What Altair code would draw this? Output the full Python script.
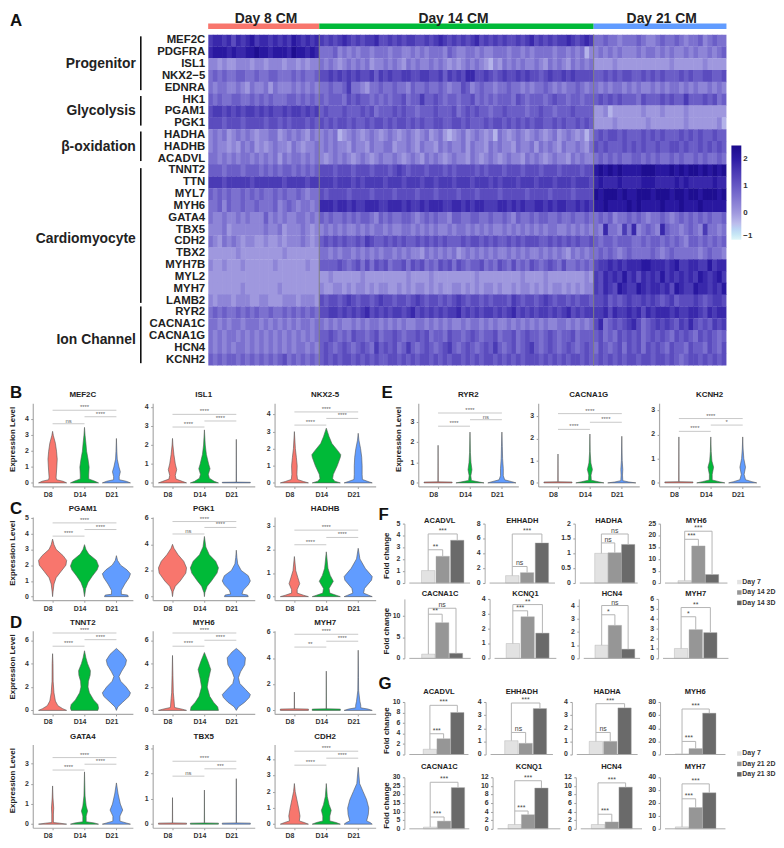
import altair as alt
import pandas as pd

FONT = "Liberation Sans"
DAYS = ["D8", "D14", "D21"]
DAY_COLORS = ["#F8766D", "#00BA38", "#619CFF"]

# ------------------------------------------------ panel A values
genes = ["MEF2C","PDGFRA","ISL1","NKX2\u22125","EDNRA","HK1","PGAM1","PGK1","HADHA","HADHB","ACADVL",
         "TNNT2","TTN","MYL7","MYH6","GATA4","TBX5","CDH2","TBX2","MYH7B","MYL2","MYH7","LAMB2",
         "RYR2","CACNA1C","CACNA1G","HCN4","KCNH2"]
# estimated intensity per cell, digit 0 (light) .. 9 (dark)
heat_d8 = [
 "677675767867767676876767","788878778898878887988787","221211222122122212212122","343433443343344333434334",
 "323322321322313222323232","434334433434343334434343","566565656656565565665656","555455545555455454555454",
 "232312323212233123232132","232212132312123221321223","332323233232323132332323","444344434443434344343434",
 "666566666566666656666566","434343343434334343343233","334243343343334234323323","322322323222423232233232",
 "222312222222322312223212","321323212211211212223212","111111211111111121111111","211211121111112111111211",
 "111111111111111111111111","111111121111111211111111","212221222112211122212221","343433434343343343434343",
 "332323323332323232323323","323233232323232323232323","323232332323232323233232","434344343434343453434343"]
heat_d14 = [
 "656567656566755656566556567656565675656565565675656566765676","333423232332333233223232333243223323223332332323333233232302",
 "323212323231223232132322323212123232102132323223213232132323","556565656556465655665566556465657755654565565655456556565555",
 "334334633213343343324334334323354234332334332323343232334323","434443545443434344534464454344344534343444354344434544344344",
 "454445444545344454544344454445345454434454444344544344454444","545455454454554545545454455445545444545545454545544545445454",
 "232301232123212321232123123101231232120321232123212312321202","232322132213223312232132213232231322132322132231323213223213",
 "212323212321232232123213232123221321232123221323212322132322","555455545554555456545554555454555545455545554555455545555455",
 "666566656566665666566656656665666566656566656665666566656665","545555455554555545555455545555455545555455555455554555545555",
 "777677676677766777676676777667767677666776767667767677667676","434334343443243433443234343324433443343343243343443343343343",
 "232323223232332322332323232232332323232232323232323322323232","454545445465445454544545454544454554545445454555445454545445",
 "332323323232323323232213232323123232323223232322323232132323","444454345353545344535453435453543445343543534354345435334343",
 "112111111211111111121111211111111121111111112111121111111121","211221212212122112121221212112212121221211212212121221212122",
 "545545654554565545545654554545654554545554654554565455454554","556656565675656566567565656566756565665656756565665656756566",
 "323232232323323232322332323232232332323223232323232233232323","445434354434534454344545344354434543445344534544345434453444",
 "454345434543645453464345434564345434546434534564345434543454","454545545454544554545455454545545454554545454555454545455454"]
heat_d21 = [
 "3343323334322343343233423433","2323232223233232322323223234","1111211111111111211111121111","4454545544545454445454455445",
 "3232332323223232332323223232","4545454443544454544644454534","1120111111211121111211111111","1111211111121111111211111120",
 "4545545444545454445454544544","5454445454544544554544545454","3434343344343433434334343343","8989898888999888989899898989",
 "7877787777888777787877777877","9899989889998999899899899989","8898888989888898889888988888","3434233434323343234343434334",
 "3273326372343274332343263323","4344344433434434343244343434","3434323433334323433333234332","5667676777887776786677668677",
 "6576768675767686767676876786","6576587668767767587668776768","5564545655656545645556545665","6675766767576777676677657677",
 "5734545675345656546575454656","4534354545345454354543545434","3543453545354543544354435435","4545454554554554543455454545"]

groups = ["Progenitor", "Glycolysis", "\u03b2-oxidation", "Cardiomyocyte", "Ion Channel"]
group_start = [0.15, 5.2, 8.2, 11.3, 23.0]
group_end = [4.7, 7.7, 10.7, 22.7, 27.8]
group_mid = [2.5, 6.5, 9.5, 17.3, 25.8]
stages = ["Day 8 CM", "Day 14 CM", "Day 21 CM"]
stage_width = [24.0, 59.3, 28.7]
stage_label_x = [12.5, 53.0, 98.0]

HEAT_COLORS = ["#dff6f8", "#bcbcec", "#9f98de", "#6558c4", "#2c1ba5", "#1a0a8c"]
HEAT_STOPS = [-1, -0.4, 0, 1, 2, 2.5]

# ------------------------------------------------ violin values: (level, relative density)
violins = {
 "MEF2C": [[(0,1),(.1,.75),(.2,.28),(.35,.25),(1,.3),(1.5,.33),(2,.28),(2.5,.2),(3,.05),(3.25,0)],
           [(0,1),(.1,.75),(.25,.3),(.5,.3),(1,.33),(1.5,.25),(2,.15),(2.5,.1),(3,.04),(3.5,0)],
           [(0,1),(.1,.7),(.2,.2),(.4,.2),(.7,.28),(1,.18),(1.5,.06),(2,.03),(2.8,0)]],
 "ISL1": [[(0,1),(.08,.7),(.2,.25),(.4,.2),(.7,.3),(1,.2),(1.5,.1),(2,.03),(2.35,0)],
          [(0,1),(.08,.7),(.25,.35),(.45,.28),(.75,.4),(1,.3),(1.5,.14),(2,.06),(2.8,0)],
          [(0,1),(.03,1),(.04,.012),(2.3,0)]],
 "NKX2-5": [[(0,1),(.08,.65),(.2,.22),(.5,.18),(1,.2),(1.5,.14),(2,.07),(3,0)],
            [(0,1),(.1,.6),(.25,.45),(.5,.5),(1,.78),(1.5,1),(1.65,1.03),(1.9,.8),(2.3,.4),(2.7,.2),(3.2,0)],
            [(0,1),(.08,.7),(.2,.3),(.5,.28),(1,.28),(1.5,.25),(2,.17),(2.5,.05),(2.9,0)]],
 "PGAM1": [[(0,0),(.3,.03),(.8,.1),(1.2,.25),(1.6,.6),(2,.95),(2.3,1),(2.6,.75),(3,.25),(3.3,.1),(3.65,0)],
           [(0,0),(.5,.08),(.9,.25),(1.3,.55),(1.7,.9),(1.95,1),(2.3,.85),(2.7,.3),(3,.1),(3.3,0)],
           [(0,.85),(.1,.8),(.15,.35),(.4,.35),(.8,.6),(1.2,.9),(1.45,1),(1.7,.75),(2,.3),(2.3,.08),(2.6,0)]],
 "PGK1": [[(0,0),(.4,.05),(.8,.2),(1.2,.55),(1.8,.95),(2.2,1),(2.7,.8),(3.2,.4),(3.7,.1),(4,0)],
          [(0,0),(.3,.03),(.8,.2),(1.2,.5),(1.8,.9),(2.2,1),(2.7,.8),(3.2,.35),(3.8,.1),(4.6,0)],
          [(0,.85),(.12,.8),(.2,.4),(.5,.5),(.9,.85),(1.2,1),(1.6,.85),(2,.35),(2.5,.1),(3,.04),(3.55,0)]],
 "HADHB": [[(0,1),(.06,.65),(.15,.2),(.3,.2),(.55,.38),(.8,.25),(1.1,.1),(1.7,0)],
           [(0,1),(.06,.7),(.15,.25),(.35,.2),(.65,.5),(.9,.28),(1.2,.12),(1.9,0)],
           [(0,1),(.06,.75),(.15,.38),(.35,.45),(.7,.95),(.85,1),(1.2,.5),(1.6,.12),(2.05,0)]],
 "TNNT2": [[(0,1),(.15,.72),(.4,.38),(.8,.2),(1.5,.1),(2.5,.04),(4,.03),(4.85,0)],
           [(0,.95),(.2,1),(.5,.95),(.9,.65),(1.5,.35),(2,.25),(2.5,.28),(3,.4),(3.4,.42),(4,.22),(4.5,.1),(5.1,0)],
           [(0,0),(.3,.1),(.7,.45),(1.2,.9),(1.5,1),(2,.7),(2.5,.3),(2.9,.18),(3.3,.35),(3.9,.65),(4.3,.72),(4.8,.45),(5.3,0)]],
 "MYH6": [[(0,1),(.1,.7),(.25,.15),(1,.1),(1.5,.06),(3,.03),(4.7,0)],
          [(0,1),(.3,.95),(.7,.65),(1.2,.38),(2,.2),(2.7,.3),(3.5,.45),(4.2,.25),(4.95,0)],
          [(0,0),(.3,.15),(.7,.6),(1.1,.92),(1.35,1),(1.8,.65),(2.3,.25),(2.8,.15),(3.3,.3),(3.9,.6),(4.5,.65),(5,.3),(5.3,0)]],
 "MYH7": [[(0,1),(.1,1),(.12,.012),(1.4,0)],
          [(0,1),(.1,1),(.12,.012),(3,0)],
          [(0,1),(.1,.7),(.2,.18),(.4,.18),(.7,.12),(1.5,.03),(2.5,.02),(4.6,0)]],
 "GATA4": [[(0,1),(.05,.5),(.08,.06),(.5,.06),(.8,.08),(1.3,.03),(1.9,0)],
           [(0,1),(.06,.7),(.12,.12),(.4,.12),(.65,.22),(.9,.12),(1.4,.04),(2.6,0)],
           [(0,1),(.06,.7),(.15,.25),(.4,.25),(.7,.45),(1,.28),(1.5,.12),(2.05,0)]],
 "TBX5": [[(0,1),(.04,1),(.05,.012),(1.05,0)],
          [(0,1),(.04,1),(.05,.012),(1.35,0)],
          [(0,1),(.04,1),(.05,.012),(1.8,0)]],
 "CDH2": [[(0,1),(.1,.7),(.2,.35),(.5,.4),(1,.3),(1.5,.18),(2,.06),(2.5,0)],
          [(0,1),(.1,.7),(.2,.25),(.5,.25),(.85,.35),(1.2,.2),(1.7,.07),(2.5,0)],
          [(0,1),(.1,.85),(.2,.6),(.6,.72),(1,.75),(1.5,.6),(2,.35),(2.5,.1),(3.5,0)]],
 "RYR2": [[(0,1),(.04,1),(.05,.012),(1.85,0)],
          [(0,1),(.05,.6),(.12,.1),(.35,.06),(.65,.14),(1,.07),(1.5,.03),(2.5,0)],
          [(0,1),(.06,.7),(.15,.2),(.35,.1),(.7,.1),(1.2,.05),(1.8,.03),(2.5,0)]],
 "CACNA1G": [[(0,1),(.04,1),(.05,.012),(1.3,0)],
             [(0,1),(.05,.6),(.12,.1),(.35,.08),(.6,.18),(.9,.07),(1.4,.02),(2.2,0)],
             [(0,1),(.04,.5),(.1,.07),(.35,.05),(.6,.07),(1,.03),(2.1,0)]],
 "KCNH2": [[(0,1),(.04,1),(.05,.012),(1.9,0)],
           [(0,1),(.05,.6),(.12,.1),(.35,.1),(.65,.2),(.9,.08),(1.3,.03),(1.9,0)],
           [(0,1),(.05,.65),(.13,.2),(.35,.1),(.65,.2),(1,.08),(1.4,.03),(1.9,0)]],
}
# px per unit on the y axis, tick values
violin_ppu = {"MEF2C":16,"ISL1":19.1,"NKX2-5":17.25,"PGAM1":15.9,"PGK1":13.2,"HADHB":23.8,"TNNT2":11.8,"MYH6":11.8,
              "MYH7":13.2,"GATA4":20.3,"TBX5":25.5,"CDH2":16.4,"RYR2":20.5,"CACNA1G":22.4,"KCNH2":24.4}
violin_ticks = {"MEF2C":[0,1,2,3,4],"ISL1":[0,1,2,3,4],"NKX2-5":[0,1,2,3,4],"PGAM1":[0,1,2,3,4,5],"PGK1":[0,2,4,6],
                "HADHB":[0,1,2,3],"TNNT2":[0,2,4,6],"MYH6":[0,2,4,6],"MYH7":[0,2,4,6],"GATA4":[0,1,2,3],
                "TBX5":[0,1,2,3],"CDH2":[0,1,2,3,4],"RYR2":[0,1,2,3],"CACNA1G":[0,1,2,3],"KCNH2":[0,1,2,3]}
# brackets: y of D8-D14, D14-D21, D8-D21 and their labels
violin_sig = {
 "MEF2C":([3.73,4.17,4.58],["ns","****","****"]),"ISL1":([2.95,3.27,3.62],["****","****","****"]),
 "NKX2-5":([3.38,3.77,4.15],["****","****","****"]),"PGAM1":([3.84,4.26,4.68],["****","****","****"]),
 "PGK1":([4.79,5.29,5.74],["ns","****","****"]),"HADHB":([2.2,2.51,2.82],["****","****","****"]),
 "TNNT2":([5.49,6.05,6.62],["****","****","****"]),"MYH6":([5.49,6.0,6.62],["****","****","****"]),
 "MYH7":([4.84,5.29,5.82],["**","****","****"]),"GATA4":([2.69,2.98,3.31],["****","****","****"]),
 "TBX5":([1.9,2.19,2.49],["ns","***","****"]),"CDH2":([3.63,4.06,4.49],["****","****","****"]),
 "RYR2":([2.79,3.11,3.44],["****","ns","****"]),"CACNA1G":([2.41,2.73,3.12],["****","****","****"]),
 "KCNH2":([2.13,2.39,2.66],["****","*","****"]),
}

# ------------------------------------------------ bar values
bar_f1 = [("ACADVL",[1.05,2.25,3.6],[0,5],[0,1,2,3,4,5],2.8,4.13,"**","***"),
          ("EHHADH",[1,1.4,5.4],[0,8],[0,2,4,6,8],2.23,6.6,"ns","***"),
          ("HADHA",[1,1.02,1.3],[0,2],[0,.5,1,1.5,2],1.35,1.65,"ns","ns"),
          ("MYH6",[1,15.6,3.6],[0,25],[0,5,10,15,20,25],18.4,21.8,"***","***")]
bar_f2 = [("CACNA1C",[1,8.4,1.2],[0,14],[0,5,10],10.4,11.8,"**","ns"),
          ("KCNQ1",[1,2.8,1.7],[0,4],[0,1,2,3,4],3.2,3.62,"***","**"),
          ("HCN4",[1,2.5,.7],[0,4.5],[0,1,2,3,4],3.3,4.0,"*","ns"),
          ("MYH7",[1,2.9,2.6],[0,6],[0,1,2,3,4,5,6],4.2,5.13,"*","**")]
bar_g1 = [("ACADVL",[1,3,8],[0,10],[0,2,4,6,8,10],3.95,9.36,"***","***"),
          ("EHHADH",[1.05,.85,3.5],[0,4],[0,1,2,3,4],1.68,3.92,"ns","***"),
          ("HADHA",[1,1,3.55],[0,4],[0,1,2,3,4],1.68,3.87,"ns","***"),
          ("MYH6",[1,9,63],[0,80],[0,20,40,60,80],19.9,69.3,"***","***")]
bar_g2 = [("CACNA1C",[1,4.5,24],[0,30],[0,5,10,15,20,25,30],6.9,27.1,"***","***"),
          ("KCNQ1",[1,3.3,9.5],[0,12],[0,2,4,6,8,10,12],4.15,11.2,"***","***"),
          ("HCN4",[1,1.6,9.7],[0,12],[0,2,4,6,8,10,12],3.4,10.7,"***","***"),
          ("MYH7",[1.5,16.5,28],[0,40],[0,10,20,30,40],23.3,34.9,"***","***")]
legend_f = ["Day 7", "Day 14 2D", "Day 14 3D"]
legend_g = ["Day 7", "Day 21 2D", "Day 21 3D"]
BAR_COLORS = ["#e2e2e2", "#969696", "#6a6a6a"]

# ------------------------------------------------ layout constants (px)
VIO_H = 84
VIO_STEP = 32.2
VIO_OFF = 20
VIO_SP = 20
BAR_SP = 8
geo_f1 = dict(l=[406,487,578,664], r=[477,562,645,737], c=[(428,445,462),(513,530,547),(603,618,634),(687,703,719)], h=60, tdy=-3)
geo_f2 = dict(l=[406,492,582,662], r=[477,563,648,738], c=[(428,444,460),(513,530,547),(603,618,634),(683,700,717)], h=60, tdy=-5)
geo_g1 = dict(l=[406,488,575,664], r=[475,560,645,735], c=[(430,446,462),(512,529,545),(597,613,630),(684,700,716)], h=53, tdy=-10)
geo_g2 = dict(l=[406,495,579,664], r=[475,568,650,735], c=[(430,446,462),(515,531,546),(599,615,631),(684,700,716)], h=52, tdy=-10)


def letter(ch, x, y):
    return alt.Chart(pd.DataFrame({"t": [ch]})).mark_text(
        fontSize=17, fontWeight="bold", align="left", baseline="middle", color="#111"
    ).encode(text="t:N", x=alt.value(x), y=alt.value(y))


def spacer(w):
    return alt.Chart(pd.DataFrame({"a": [0]})).mark_point(opacity=0).encode(
        x=alt.X("a:Q", axis=None), y=alt.Y("a:Q", axis=None)).properties(width=w, height=1)


def tick_text(ticks, ys):
    df = pd.DataFrame({"v": ticks, "s": [f"{t:g}" for t in ticks]})
    return alt.Chart(df).mark_text(align="right", baseline="middle", fontSize=7, fontWeight="bold", color="#333").encode(
        text="s:N", y=alt.Y("v:Q", scale=ys), x=alt.value(-4))


# ------------------------------------------------ panel A
def heat_chart():
    cells = []
    starts = [0, stage_width[0], stage_width[0] + stage_width[1]]
    for sidx, block in enumerate([heat_d8, heat_d14, heat_d21]):
        for row, s in enumerate(block):
            w = stage_width[sidx] / len(s)
            for i, ch in enumerate(s):
                x0 = starts[sidx] + i * w
                cells.append({"x0": round(x0, 3), "x1": round(x0 + w * 1.12, 3), "r0": row, "r1": row + 1.03,
                              "v": round(-0.3 + 0.3 * int(ch), 2)})
    total = sum(stage_width)
    xs = alt.Scale(domain=[0, total], nice=False, zero=False)
    ys = alt.Scale(domain=[len(genes), 0], nice=False, zero=False)
    X = lambda f: alt.X(f, scale=xs, axis=None)
    Y = lambda f: alt.Y(f, scale=ys, axis=None)
    rect = alt.Chart(pd.DataFrame(cells)).mark_rect(clip=True).encode(
        x=X("x0:Q"), x2="x1:Q", y=Y("r0:Q"), y2="r1:Q",
        color=alt.Color("v:Q", scale=alt.Scale(domain=HEAT_STOPS, range=HEAT_COLORS),
                        legend=alt.Legend(orient="none", legendX=705, legendY=112, gradientLength=95,
                                          gradientThickness=10, title=None, values=[-1, 0, 1, 2],
                                          labelFontSize=8, labelFontWeight="bold", labelColor="#333")))
    sep = alt.Chart(pd.DataFrame({"x": starts[1:]})).mark_rule(color="#808080", strokeWidth=1).encode(
        x=X("x:Q"), y=alt.value(0), y2=alt.value(334))
    lab_df = pd.DataFrame({"g": genes, "y": [i + 0.5 for i in range(len(genes))]})
    labs = alt.Chart(lab_df).mark_text(align="right", baseline="middle", fontSize=11.5, fontWeight="bold", color="#222").encode(
        text="g:N", y=Y("y:Q"), x=alt.value(-3))
    gdf = pd.DataFrame({"g": groups, "a": group_start, "b": group_end, "m": group_mid})
    grule = alt.Chart(gdf).mark_rule(color="#111", strokeWidth=1.6).encode(y=Y("a:Q"), y2="b:Q", x=alt.value(-68))
    gtext = alt.Chart(gdf).mark_text(align="right", baseline="middle", fontSize=14, fontWeight="bold", color="#222").encode(
        text="g:N", y=Y("m:Q"), x=alt.value(-73))
    sdf = pd.DataFrame({"s": stages, "a": starts, "b": [starts[1], starts[2], total], "m": stage_label_x, "c": DAY_COLORS})
    sbar = alt.Chart(sdf).mark_rule(strokeWidth=5.5).encode(
        x=X("a:Q"), x2="b:Q", y=alt.value(-8.3), stroke=alt.Stroke("c:N", scale=None))
    stext = alt.Chart(sdf).mark_text(baseline="middle", fontSize=14, fontWeight="bold", color="#222").encode(
        text="s:N", x=X("m:Q"), y=alt.value(-16))
    return alt.layer(rect, sep, labs, grule, gtext, sbar, stext, letter("A", -200, -14)).properties(width=523, height=334)


# ------------------------------------------------ violin panels
def violin(name, w, ytitle=False, let=None, let_xy=(0, 0)):
    ppu = violin_ppu[name]
    ydom = [-3.6 / ppu, 80.4 / ppu]
    lo = 1 - VIO_OFF / VIO_STEP
    xdom = [lo, lo + w / VIO_STEP]
    xs = alt.Scale(domain=xdom, nice=False, zero=False)
    ys = alt.Scale(domain=ydom, nice=False, zero=False)
    xaxis = alt.Axis(values=[1, 2, 3], title=None, grid=False,
                labelExpr="datum.value == 1 ? 'D8' : datum.value == 2 ? 'D14' : 'D21'",
                labelOffset=-5, labelFontSize=7, labelFontWeight="bold", labelColor="#333",
                tickSize=2, tickColor="#999", domainColor="#aaa", domainWidth=1.2)
    yaxis = alt.Axis(values=violin_ticks[name], grid=False, labels=False,
                title="Expression Level" if ytitle else None, titleFontSize=8, titleFontWeight="bold",
                titleColor="#222", titleX=-16, titleY=36, tickSize=2, tickColor="#999",
                domainColor="#aaa", domainWidth=1.2)
    areas = []
    for d, shape in enumerate(violins[name]):
        rows = [{"lev": level, "a": d + 1 - dens * 0.44, "b": d + 1 + dens * 0.44} for level, dens in shape]
        areas.append(alt.Chart(pd.DataFrame(rows)).mark_area(
            orient="horizontal", color=DAY_COLORS[d], stroke="#555", strokeWidth=0.6).encode(
            x=alt.X("a:Q", scale=xs, axis=xaxis), x2="b:Q", y=alt.Y("lev:Q", scale=ys, axis=yaxis)))
    ysig, labs = violin_sig[name]
    br = pd.DataFrame({"a": [1, 2, 1], "b": [2, 3, 3], "m": [1.5, 2.5, 2], "y": ysig, "t": labs})
    rule = alt.Chart(br).mark_rule(color="#c8c8c8", strokeWidth=1).encode(
        x=alt.X("a:Q", scale=xs, axis=xaxis), x2="b:Q", y=alt.Y("y:Q", scale=ys, axis=yaxis))
    txt = alt.Chart(br).mark_text(fontSize=6, color="#666", dy=-3, baseline="middle").encode(
        x=alt.X("m:Q", scale=xs, axis=xaxis), y=alt.Y("y:Q", scale=ys, axis=yaxis), text="t:N")
    ti = alt.Chart(pd.DataFrame({"t": [name]})).mark_text(
        fontSize=8, fontWeight="bold", color="#222", baseline="middle").encode(
        text="t:N", x=alt.value(w / 2), y=alt.value(-8))
    tt = tick_text(violin_ticks[name], ys).encode(y=alt.Y("v:Q", scale=ys, axis=yaxis))
    ls = areas + [rule, txt, ti, tt]
    if let:
        ls.append(letter(let, *let_xy))
    return alt.layer(*ls).properties(width=w, height=VIO_H)


def vrow(names, ytitle=True, let=None, let_xy=(0, 0), widths=(101, 103, 102)):
    cs = [violin(n, widths[i], ytitle and i == 0, let if i == 0 else None, let_xy) for i, n in enumerate(names)]
    return alt.hconcat(*cs, spacing=VIO_SP, bounds="flush")


# ------------------------------------------------ bar panels
def bars(spec, geo, i, ytitle=False, let=None, let_xy=(0, 0)):
    name, vals, ydom, ticks, ys1, ys2, lab1, lab2 = spec
    left, right = geo["l"][i], geo["r"][i]
    c = geo["c"][i]
    w = (geo["l"][i + 1] - left - BAR_SP) if i < 3 else right - left
    step = (c[2] - c[0]) / 2
    lo = 1 - (c[0] - left) / step
    end = lo + (right - left) / step
    xs = alt.Scale(domain=[lo, lo + w / step], nice=False, zero=False)
    ys = alt.Scale(domain=ydom, nice=False, zero=False)
    yaxis = alt.Axis(values=ticks, grid=False, labels=False, title="Fold change" if ytitle else None, titleFontSize=8,
                     titleFontWeight="bold", titleColor="#222", titleX=-14, titleY=geo["h"] / 2 + 2,
                     tickSize=2, tickColor="#999", domainColor="#aaa")
    df = pd.DataFrame({"p": [1, 2, 3], "v": vals, "k": BAR_COLORS})
    bar = alt.Chart(df).mark_bar(size=13.5, orient="vertical", stroke="#aaa", strokeWidth=0.4).encode(
        x=alt.X("p:Q", scale=xs, axis=None),
        y=alt.Y("v:Q", scale=ys, stack=None, axis=yaxis),
        color=alt.Color("k:N", scale=None))
    Yb = lambda f: alt.Y(f, scale=ys, axis=yaxis)
    Xb = lambda f: alt.X(f, scale=xs, axis=None)
    base = alt.Chart(pd.DataFrame({"a": [lo], "b": [end], "y": [0]})).mark_rule(color="#aaa", strokeWidth=1).encode(
        x=Xb("a:Q"), x2="b:Q", y=Yb("y:Q"))
    hz = pd.DataFrame({"a": [1, 1], "b": [2, 3], "y": [ys1, ys2], "m": [1.5, 2], "t": [lab1, lab2]})
    vt = pd.DataFrame({"x": [1, 2, 3], "y": [vals[0], vals[1], vals[2]], "y2": [ys2, ys1, ys2]})
    h = alt.Chart(hz).mark_rule(color="#b4b4b4", strokeWidth=1).encode(x=Xb("a:Q"), x2="b:Q", y=Yb("y:Q"))
    v = alt.Chart(vt).mark_rule(color="#b4b4b4", strokeWidth=1).encode(x=Xb("x:Q"), y=Yb("y:Q"), y2="y2:Q")
    t = alt.Chart(hz).mark_text(fontSize=7, color="#444", dy=-3, baseline="middle").encode(
        x=Xb("m:Q"), y=Yb("y:Q"), text="t:N")
    mid = (lo + end) / 2
    ti = alt.Chart(pd.DataFrame({"x": [mid], "t": [name]})).mark_text(
        fontSize=7.6, fontWeight="bold", color="#222", baseline="middle").encode(
        x=Xb("x:Q"), y=alt.value(geo["tdy"]), text="t:N")
    tt = tick_text(ticks, ys).encode(y=Yb("v:Q"))
    ls = [bar, base, h, v, t, ti, tt]
    if let:
        ls.append(letter(let, *let_xy))
    return alt.layer(*ls).properties(width=w, height=geo["h"])


def brow(specs, geo, let=None, let_xy=(0, 0)):
    cs = [bars(s, geo, i, i == 0, let if i == 0 else None, let_xy) for i, s in enumerate(specs)]
    return alt.hconcat(*cs, spacing=BAR_SP, bounds="flush")


def legend_chart(labels, h, first_y):
    step = 10.5
    df = pd.DataFrame({"t": labels, "r": [0, 1, 2], "k": BAR_COLORS})
    ys = alt.Scale(domain=[-first_y / step, (h - first_y) / step], nice=False, zero=False, reverse=True)
    sq = alt.Chart(df).mark_square(size=20, opacity=1).encode(
        x=alt.value(3), y=alt.Y("r:Q", scale=ys, axis=None), color=alt.Color("k:N", scale=None))
    tx = alt.Chart(df).mark_text(align="left", baseline="middle", fontSize=7, fontWeight="bold", color="#333").encode(
        x=alt.value(6), y=alt.Y("r:Q", scale=ys, axis=None), text="t:N")
    return alt.layer(sq, tx).properties(width=30, height=h)


# ------------------------------------------------ assembly
left_col = alt.vconcat(
    vrow(["MEF2C", "ISL1", "NKX2-5"], let="B", let_xy=(-23, -10)),
    vrow(["PGAM1", "PGK1", "HADHB"], let="C", let_xy=(-23, -8)),
    vrow(["TNNT2", "MYH6", "MYH7"], let="D", let_xy=(-23, -8)),
    vrow(["GATA4", "TBX5", "CDH2"], let=" ", let_xy=(-23, -8)),
    spacing=2.8)

e_row = alt.hconcat(
    spacer(1),
    vrow(["RYR2", "CACNA1G", "KCNH2"], let="E", let_xy=(-37, -10), widths=(101, 102, 102)),
    spacing=-27)

f_block = alt.hconcat(
    alt.vconcat(brow(bar_f1, geo_f1, "F", (-26, -9)), brow(bar_f2, geo_f2), spacing=4),
    legend_chart(legend_f, 100, 59),
    spacing=3)
g_block = alt.hconcat(
    alt.vconcat(brow(bar_g1, geo_g1, "G", (-26, -18)), brow(bar_g2, geo_g2), spacing=6),
    legend_chart(legend_g, 100, 52),
    spacing=6)
right_col = alt.vconcat(alt.vconcat(e_row, f_block, spacing=8.5), g_block, spacing=13.5)

heat_row = alt.hconcat(spacer(177), heat_chart(), spacing=0, bounds="flush")
chart = alt.vconcat(heat_row, alt.hconcat(left_col, right_col, spacing=3), spacing=18).properties(
    padding=0, background="white"
).configure(font=FONT).configure_view(stroke=None)

chart.save("out.html", embed_options={"renderer": "svg", "actions": False})
